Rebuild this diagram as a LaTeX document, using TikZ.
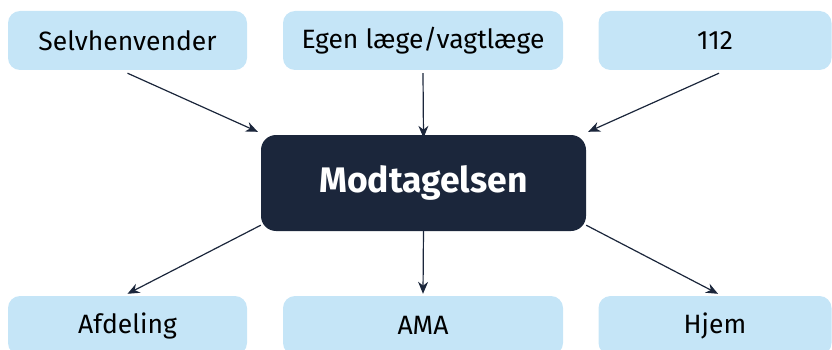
\documentclass[tikz,border=0pt]{standalone}
\usepackage{fontspec}
\setmainfont{Fira Sans}
\usetikzlibrary{arrows.meta}
\definecolor{lightbox}{HTML}{C5E5F7}
\definecolor{darkbox}{HTML}{1B263B}
\begin{document}
\begin{tikzpicture}[x=1pt,y=-1pt,
  srcbox/.style={fill=lightbox, draw=none, rounded corners=12pt, minimum width=239pt, minimum height=59pt, inner sep=0pt, text=black, font=\fontsize{26.5}{30}\selectfont},
  midbox/.style={fill=lightbox, draw=none, rounded corners=12pt, minimum width=280pt, minimum height=59pt, inner sep=0pt, text=black, font=\fontsize{26.5}{30}\selectfont},
  hubbox/.style={fill=darkbox, draw=none, rounded corners=15pt, minimum width=325pt, minimum height=96pt, inner sep=0pt, text=white, font=\fontsize{35.5}{40}\selectfont\bfseries},
  link/.style={draw=darkbox, line width=1.2pt, -{Stealth[length=12pt,width=10pt]}}]
\useasboundingbox (0,0) rectangle (832,350);
\node[srcbox] (sel) at (127.5,40.5) {Selvhenvender};
\node[midbox] (egen) at (423,40.5) {Egen læge/vagtlæge};
\node[srcbox, minimum width=233pt] (n112) at (715,40.5) {112};
\node[hubbox] (hub) at (423.5,183) {Modtagelsen};
\node[srcbox] (afd) at (127.5,325.5) {Afdeling};
\node[midbox] (ama) at (423,325.5) {AMA};
\node[srcbox, minimum width=233pt] (hjem) at (715,325.5) {Hjem};
\coordinate (hubnw) at ([shift={(-3pt,3pt)}]hub.north west);
\coordinate (hubne) at ([shift={(2pt,3pt)}]hub.north east);
\draw[link] ([yshift=-3pt]sel.south) -- (hubnw);
\draw[link] ([yshift=-3pt]egen.south) -- ([yshift=-3pt]hub.north);
\draw[link] ([xshift=4pt,yshift=-3pt]n112.south) -- (hubne);
\draw[link] ([yshift=6pt]hub.south west) -- ([yshift=2pt]afd.north);
\draw[link] ([yshift=3pt]hub.south) -- ([yshift=2pt]ama.north);
\draw[link] ([yshift=6pt]hub.south east) -- ([xshift=3pt,yshift=2pt]hjem.north);
\end{tikzpicture}
\end{document}
